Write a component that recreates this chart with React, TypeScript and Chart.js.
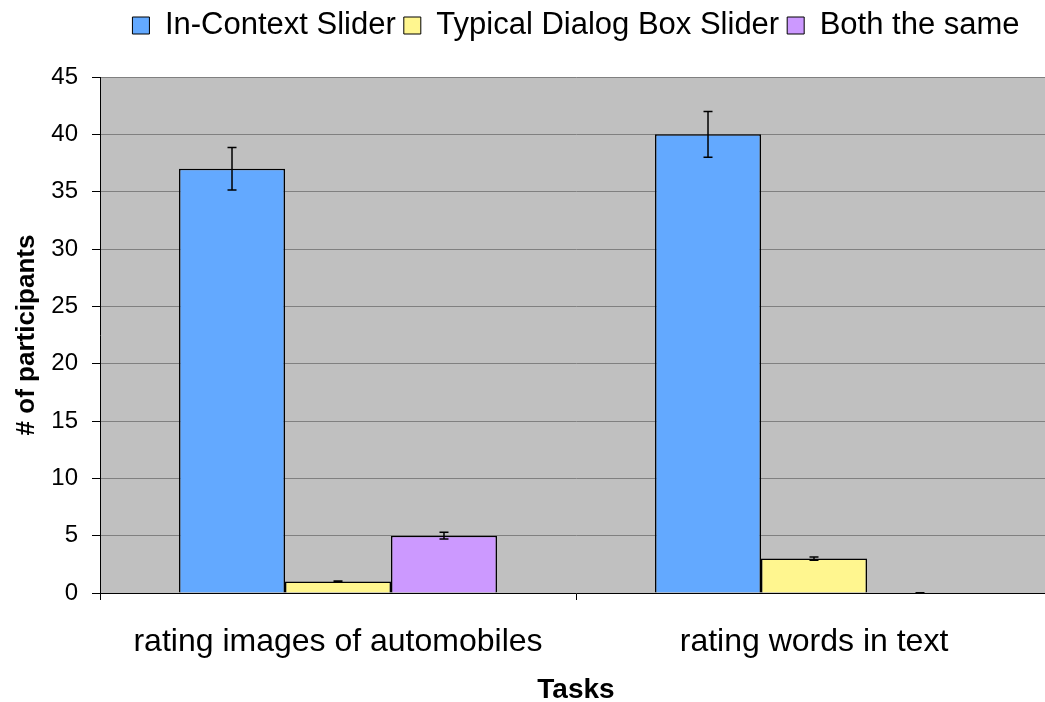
import React, { useEffect, useRef } from "react";
import { Chart, registerables } from "chart.js";

Chart.register(...registerables);

const categories = ["rating images of automobiles", "rating words in text"];
const seriesNames = ["In-Context Slider", "Typical Dialog Box Slider", "Both the same"];
const inContext = [37, 40];
const inContextErr = [1.85, 2.0];
const typical = [1, 3];
const typicalErr = [0.05, 0.15];
const both = [5, 0];
const bothErr = [0.3, 0.02];
const yTicks = [0, 5, 10, 15, 20, 25, 30, 35, 40, 45];

const FONT = "'Liberation Sans', Arial, Helvetica, sans-serif";

const errors = [inContextErr, typicalErr, bothErr];

const bgPlugin = {
  id: "plotBg",
  beforeDraw(chart: any) {
    const { ctx, chartArea } = chart;
    ctx.save();
    ctx.fillStyle = "#C0C0C0";
    ctx.fillRect(chartArea.left, chartArea.top, chartArea.right - chartArea.left, chartArea.bottom - chartArea.top);
    ctx.restore();
  },
};

const legendGap = {
  id: "legendGap",
  beforeInit(chart: any) {
    const orig = chart.legend.fit;
    chart.legend.fit = function fit() {
      orig.bind(chart.legend)();
      this.height += 26;
    };
  },
};

const errorPlugin = {
  id: "errorBars",
  afterDatasetsDraw(chart: any) {
    const { ctx } = chart;
    const yScale = chart.scales.y;
    ctx.save();
    ctx.strokeStyle = "#000";
    ctx.lineWidth = 1.5;
    chart.data.datasets.forEach((ds: any, di: number) => {
      const meta = chart.getDatasetMeta(di);
      const errs = errors[di];
      meta.data.forEach((bar: any, i: number) => {
        const v = ds.data[i];
        const e = errs[i];
        const yTop = yScale.getPixelForValue(v + e);
        const yBot = yScale.getPixelForValue(Math.max(0, v - e));
        const x = bar.x;
        ctx.beginPath();
        ctx.moveTo(x, yTop);
        ctx.lineTo(x, yBot);
        ctx.moveTo(x - 4.5, yTop);
        ctx.lineTo(x + 4.5, yTop);
        ctx.moveTo(x - 4.5, yBot);
        ctx.lineTo(x + 4.5, yBot);
        ctx.stroke();
      });
    });
    ctx.restore();
  },
};

export default function App() {
  const ref = useRef<HTMLCanvasElement>(null);
  useEffect(() => {
    if (!ref.current) return;
    const chart = new Chart(ref.current, {
      type: "bar",
      data: {
        labels: categories,
        datasets: [
          { label: seriesNames[0], data: inContext, backgroundColor: "#63A9FF", borderColor: "#000", borderWidth: 1.5 },
          { label: seriesNames[1], data: typical, backgroundColor: "#FFF68F", borderColor: "#000", borderWidth: 1.5 },
          { label: seriesNames[2], data: both, backgroundColor: "#CC99FF", borderColor: "#000", borderWidth: 1.5 },
        ],
      },
      options: {
        responsive: false,
        animation: false,
        layout: { padding: { top: 2, left: 0, right: 0, bottom: 0 } },
        datasets: { bar: { categoryPercentage: 0.668, barPercentage: 1 } },
        plugins: {
          legend: {
            position: "top",
            fullSize: false,
            labels: {
              font: { family: FONT, size: 31 },
              color: "#000",
              boxWidth: 17,
              boxHeight: 17,
              padding: 8,
              generateLabels: (chart: any) =>
                chart.data.datasets.map((ds: any, i: number) => ({
                  text: ds.label,
                  fillStyle: ds.backgroundColor,
                  strokeStyle: "#000",
                  lineWidth: 1,
                  datasetIndex: i,
                  fontColor: "#000",
                })),
            },
          },
          tooltip: { enabled: false },
        },
        scales: {
          x: {
            afterFit(scale: any) {
              scale.height = 109;
            },
            grid: { drawOnChartArea: false, drawTicks: true, tickLength: 7, color: "#000", offset: true },
            border: { color: "#000", width: 1 },
            ticks: { font: { family: FONT, size: 32 }, color: "#000", padding: 23, maxRotation: 0 },
            title: {
              display: true,
              text: "Tasks",
              font: { family: FONT, size: 28, weight: "bold", lineHeight: 0.86 },
              color: "#000",
              padding: { top: 0, bottom: 0 },
            },
          },
          y: {
            min: 0,
            max: 45,
            afterFit(scale: any) {
              scale.width = 100;
            },
            afterBuildTicks(scale: any) {
              scale.ticks = yTicks.map((v) => ({ value: v }));
            },
            grid: { color: "#808080", tickColor: "#000", tickLength: 8, lineWidth: 1 },
            border: { color: "#000", width: 1 },
            ticks: { font: { family: FONT, size: 24 }, color: "#000", padding: 14 },
            title: {
              display: true,
              text: "# of participants",
              font: { family: FONT, size: 26, weight: "bold" },
              color: "#000",
              padding: { top: 11, bottom: 0 },
            },
          },
        },
      },
      plugins: [bgPlugin, legendGap, errorPlugin],
    });
    return () => chart.destroy();
  }, []);
  return (
    <div style={{ position: "fixed", left: 0, top: 0, width: 1045, height: 702, overflow: "hidden", background: "#fff" }}>
      <canvas ref={ref} width={1052} height={702} style={{ display: "block" }} />
    </div>
  );
}
